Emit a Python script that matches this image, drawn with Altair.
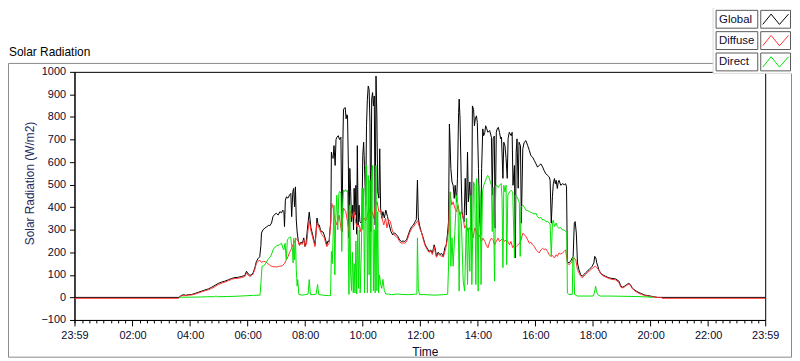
import altair as alt
import pandas as pd

series_names = ["Global", "Diffuse", "Direct"]
series_colors = ["#000000", "#ff3030", "#00e400"]

# (hour of day, W/m2)
global_pts = [
    (-0.0167, 0), (3.62, 0), (3.66, 6), (3.72, 10), (3.8, 12), (3.83, 9), (3.95, 12), (4.06, 13),
    (4.18, 18), (4.29, 23), (4.41, 28), (4.52, 33), (4.64, 38), (4.75, 45), (4.87, 54), (4.98, 62),
    (5.1, 68), (5.21, 72), (5.33, 78), (5.44, 84), (5.56, 88), (5.67, 89), (5.79, 93), (5.9, 97),
    (5.96, 116), (6.02, 104), (6.08, 98), (6.13, 100), (6.19, 109), (6.25, 131), (6.3, 158), (6.36, 172),
    (6.42, 180), (6.46, 230), (6.48, 285), (6.53, 299), (6.6, 308), (6.66, 312), (6.72, 320), (6.77, 318),
    (6.83, 330), (6.88, 358), (6.94, 368), (7.0, 373), (7.06, 365), (7.12, 380), (7.18, 375), (7.22, 387),
    (7.26, 380), (7.28, 314), (7.31, 431), (7.35, 446), (7.4, 440), (7.46, 455), (7.5, 461), (7.53, 358),
    (7.57, 470), (7.6, 483), (7.63, 402), (7.66, 490), (7.69, 343), (7.72, 290), (7.76, 250), (7.8, 233),
    (7.85, 245), (7.9, 240), (7.95, 264), (7.99, 226), (8.03, 242), (8.09, 321), (8.14, 378), (8.2, 308),
    (8.26, 277), (8.3, 255), (8.34, 233), (8.38, 300), (8.41, 352), (8.45, 321), (8.49, 321), (8.53, 300),
    (8.57, 292), (8.62, 290), (8.66, 277), (8.7, 260), (8.75, 233), (8.79, 250), (8.83, 248), (8.86, 300),
    (8.89, 336), (8.91, 644), (8.94, 620), (8.97, 616), (9.0, 673), (9.04, 585), (9.07, 700), (9.1, 710),
    (9.15, 717), (9.19, 700), (9.21, 704), (9.24, 710), (9.26, 468), (9.28, 292), (9.31, 700), (9.33, 834),
    (9.37, 840), (9.39, 842), (9.42, 792), (9.45, 810), (9.47, 805), (9.5, 585), (9.52, 264), (9.55, 572),
    (9.58, 468), (9.61, 336), (9.65, 409), (9.68, 300), (9.7, 484), (9.73, 365), (9.76, 497), (9.79, 280),
    (9.81, 673), (9.84, 321), (9.87, 409), (9.9, 336), (9.94, 330), (9.97, 340), (10.0, 629), (10.03, 688),
    (10.06, 585), (10.1, 409), (10.13, 761), (10.16, 879), (10.19, 937), (10.22, 922), (10.25, 776),
    (10.28, 292), (10.31, 879), (10.34, 908), (10.37, 849), (10.4, 893), (10.43, 321), (10.46, 981),
    (10.49, 805), (10.52, 468), (10.56, 440), (10.59, 659), (10.62, 396), (10.66, 351), (10.7, 380),
    (10.75, 352), (10.8, 387), (10.86, 358), (10.92, 321), (10.98, 292), (11.04, 277), (11.1, 286),
    (11.16, 280), (11.22, 270), (11.28, 255), (11.34, 248), (11.4, 250), (11.46, 248), (11.52, 255),
    (11.58, 277), (11.64, 299), (11.7, 314), (11.76, 321), (11.82, 336), (11.86, 345), (11.9, 520),
    (11.93, 352), (11.97, 321), (12.03, 292), (12.1, 264), (12.17, 233), (12.24, 218), (12.3, 204),
    (12.36, 210), (12.42, 197), (12.48, 233), (12.52, 215), (12.56, 182), (12.62, 200), (12.68, 190),
    (12.74, 195), (12.8, 182), (12.85, 220), (12.9, 233), (12.94, 277), (12.98, 336), (13.01, 769),
    (13.03, 700), (13.06, 572), (13.1, 512), (13.14, 497), (13.18, 439), (13.21, 497), (13.26, 424),
    (13.29, 528), (13.33, 820), (13.35, 879), (13.38, 791), (13.42, 528), (13.45, 380), (13.49, 351),
    (13.52, 336), (13.56, 528), (13.6, 365), (13.64, 644), (13.67, 424), (13.72, 512), (13.78, 292),
    (13.81, 849), (13.85, 834), (13.88, 761), (13.91, 791), (13.95, 805), (13.98, 776), (14.02, 571),
    (14.06, 351), (14.1, 277), (14.13, 572), (14.17, 747), (14.2, 717), (14.24, 732), (14.27, 761),
    (14.3, 750), (14.35, 732), (14.41, 740), (14.47, 710), (14.5, 453), (14.53, 704), (14.57, 715),
    (14.6, 307), (14.64, 732), (14.67, 747), (14.71, 754), (14.75, 732), (14.79, 704), (14.82, 710),
    (14.87, 528), (14.9, 688), (14.94, 673), (14.98, 616), (15.02, 528), (15.05, 704), (15.09, 732),
    (15.12, 725), (15.16, 717), (15.19, 732), (15.22, 497), (15.27, 585), (15.3, 175), (15.33, 644),
    (15.36, 703), (15.4, 484), (15.43, 688), (15.48, 673), (15.51, 329), (15.56, 659), (15.61, 688),
    (15.67, 695), (15.73, 673), (15.79, 651), (15.84, 629), (15.9, 622), (15.96, 607), (16.02, 592),
    (16.07, 578), (16.13, 585), (16.19, 592), (16.25, 578), (16.3, 563), (16.36, 548), (16.42, 541),
    (16.48, 534), (16.51, 519), (16.55, 329), (16.59, 446), (16.62, 504), (16.66, 527), (16.69, 504),
    (16.72, 519), (16.76, 483), (16.79, 510), (16.82, 519), (16.88, 497), (16.94, 504), (17.0, 500),
    (17.05, 504), (17.08, 490), (17.11, 160), (17.16, 153), (17.22, 160), (17.28, 175), (17.31, 182),
    (17.35, 329), (17.38, 336), (17.42, 285), (17.46, 153), (17.51, 123), (17.57, 101), (17.63, 94),
    (17.68, 101), (17.74, 109), (17.8, 116), (17.86, 123), (17.92, 131), (17.97, 138), (18.03, 153),
    (18.06, 182), (18.1, 175), (18.13, 153), (18.17, 138), (18.2, 123), (18.26, 109), (18.32, 101),
    (18.43, 94), (18.55, 87), (18.66, 84), (18.78, 82), (18.9, 72), (18.97, 50), (19.02, 45), (19.1, 50),
    (19.17, 57), (19.24, 62), (19.3, 57), (19.36, 43), (19.42, 35), (19.5, 28), (19.6, 21), (19.7, 16),
    (19.8, 10), (19.9, 8), (20.0, 6), (20.1, 3), (20.25, 0), (23.983, 0),
]

diffuse_pts = [
    (-0.0167, -4), (3.6, -4), (3.66, 4), (3.72, 8), (3.83, 8), (3.95, 10), (4.06, 11), (4.18, 15),
    (4.29, 20), (4.41, 25), (4.52, 30), (4.64, 34), (4.75, 40), (4.87, 48), (4.98, 57), (5.1, 63),
    (5.21, 68), (5.33, 74), (5.44, 80), (5.56, 84), (5.67, 85), (5.79, 88), (5.9, 92), (5.96, 108),
    (6.02, 98), (6.08, 93), (6.13, 96), (6.19, 104), (6.25, 125), (6.3, 150), (6.36, 160), (6.42, 165),
    (6.48, 155), (6.55, 160), (6.62, 158), (6.7, 150), (6.8, 140), (6.9, 136), (7.0, 135), (7.1, 138),
    (7.2, 140), (7.28, 150), (7.34, 165), (7.4, 180), (7.46, 200), (7.52, 215), (7.58, 235), (7.64, 250),
    (7.7, 260), (7.74, 255), (7.8, 230), (7.85, 240), (7.9, 235), (7.95, 255), (8.0, 225), (8.05, 240),
    (8.1, 300), (8.14, 340), (8.2, 295), (8.26, 265), (8.34, 225), (8.41, 330), (8.49, 305), (8.57, 280),
    (8.66, 265), (8.75, 225), (8.83, 240), (8.88, 320), (8.92, 418), (8.97, 396), (9.02, 352), (9.1, 321),
    (9.18, 365), (9.26, 292), (9.33, 396), (9.41, 380), (9.47, 336), (9.52, 292), (9.58, 380), (9.64, 352),
    (9.7, 380), (9.75, 336), (9.81, 308), (9.87, 321), (9.92, 292), (9.98, 336), (10.04, 352), (10.1, 340),
    (10.16, 358), (10.21, 396), (10.27, 360), (10.33, 380), (10.38, 350), (10.44, 409), (10.5, 424),
    (10.56, 380), (10.62, 385), (10.67, 351), (10.73, 321), (10.79, 351), (10.84, 308), (10.9, 345),
    (10.96, 336), (11.02, 300), (11.1, 275), (11.16, 270), (11.22, 262), (11.28, 247), (11.34, 240),
    (11.4, 242), (11.46, 240), (11.52, 247), (11.58, 268), (11.64, 290), (11.7, 305), (11.76, 312),
    (11.82, 325), (11.86, 330), (11.91, 340), (11.95, 320), (12.0, 300), (12.05, 285), (12.1, 258),
    (12.17, 228), (12.24, 212), (12.3, 200), (12.36, 205), (12.42, 190), (12.48, 225), (12.56, 178),
    (12.62, 192), (12.7, 185), (12.8, 180), (12.88, 215), (12.94, 260), (12.98, 300), (13.03, 468),
    (13.09, 409), (13.14, 424), (13.2, 395), (13.26, 380), (13.31, 409), (13.37, 365), (13.43, 380),
    (13.49, 351), (13.54, 307), (13.6, 321), (13.66, 292), (13.72, 310), (13.78, 292), (13.83, 263),
    (13.89, 307), (13.95, 292), (14.01, 263), (14.06, 277), (14.12, 248), (14.18, 263), (14.24, 248),
    (14.29, 233), (14.35, 220), (14.41, 248), (14.47, 263), (14.53, 255), (14.58, 233), (14.64, 248),
    (14.7, 263), (14.75, 248), (14.81, 255), (14.87, 263), (14.92, 248), (14.98, 255), (15.04, 248),
    (15.1, 233), (15.15, 248), (15.21, 220), (15.27, 233), (15.33, 226), (15.39, 233), (15.45, 240),
    (15.5, 255), (15.56, 285), (15.61, 278), (15.67, 270), (15.73, 255), (15.79, 240), (15.84, 245),
    (15.9, 233), (15.96, 226), (16.02, 211), (16.07, 205), (16.13, 197), (16.19, 211), (16.25, 218),
    (16.3, 212), (16.36, 215), (16.42, 204), (16.48, 189), (16.53, 182), (16.59, 186), (16.66, 175),
    (16.72, 189), (16.76, 182), (16.82, 197), (16.88, 192), (16.94, 197), (17.0, 204), (17.05, 211),
    (17.11, 153), (17.16, 145), (17.22, 150), (17.28, 160), (17.33, 175), (17.4, 168), (17.46, 123),
    (17.51, 109), (17.57, 94), (17.63, 87), (17.68, 94), (17.74, 101), (17.8, 109), (17.86, 116),
    (17.92, 123), (17.97, 128), (18.03, 135), (18.09, 138), (18.14, 131), (18.2, 122), (18.26, 106),
    (18.35, 96), (18.43, 91), (18.55, 84), (18.66, 80), (18.78, 78), (18.9, 66), (18.97, 45), (19.02, 42),
    (19.1, 47), (19.17, 54), (19.24, 58), (19.3, 54), (19.36, 40), (19.42, 32), (19.5, 25), (19.6, 18),
    (19.7, 13), (19.8, 8), (19.9, 6), (20.0, 4), (20.1, 2), (20.25, 0), (20.38, 0), (20.4, -4),
    (23.983, -4),
]

direct_pts = [
    (3.62, 0), (3.7, 1), (4.0, 1), (4.4, 2), (4.6, 3), (4.85, 3), (4.9, 6), (4.95, 3), (5.3, 4), (5.6, 5),
    (5.9, 7), (6.2, 9), (6.43, 10), (6.46, 60), (6.5, 138), (6.55, 140), (6.6, 145), (6.7, 167), (6.8, 182),
    (6.9, 215), (7.0, 229), (7.1, 233), (7.18, 240), (7.22, 220), (7.26, 211), (7.3, 240), (7.34, 167),
    (7.38, 255), (7.42, 262), (7.46, 268), (7.5, 266), (7.53, 226), (7.56, 211), (7.58, 153), (7.6, 262),
    (7.63, 167), (7.66, 264), (7.69, 123), (7.72, 50), (7.74, 79), (7.78, 13), (7.9, 10), (8.0, 12),
    (8.1, 15), (8.14, 79), (8.18, 13), (8.3, 12), (8.38, 15), (8.43, 57), (8.47, 13), (8.6, 10), (8.8, 8),
    (8.88, 8), (8.91, 204), (8.94, 150), (8.97, 264), (9.0, 409), (9.03, 100), (9.06, 350), (9.1, 453),
    (9.13, 300), (9.17, 462), (9.2, 470), (9.24, 462), (9.27, 204), (9.3, 400), (9.33, 475), (9.37, 470),
    (9.4, 478), (9.44, 470), (9.47, 475), (9.5, 200), (9.52, 13), (9.55, 409), (9.58, 100), (9.61, 30),
    (9.64, 200), (9.67, 20), (9.7, 150), (9.73, 20), (9.76, 250), (9.79, 15), (9.82, 308), (9.85, 40),
    (9.88, 300), (9.91, 20), (9.95, 200), (9.98, 484), (10.0, 300), (10.03, 484), (10.06, 20), (10.1, 500),
    (10.13, 585), (10.16, 20), (10.19, 541), (10.22, 100), (10.25, 520), (10.28, 20), (10.31, 541),
    (10.34, 585), (10.37, 30), (10.4, 300), (10.43, 20), (10.46, 585), (10.49, 30), (10.52, 380),
    (10.55, 20), (10.58, 100), (10.62, 60), (10.66, 40), (10.7, 80), (10.75, 30), (10.8, 15), (10.9, 15),
    (11.0, 12), (11.2, 15), (11.4, 13), (11.6, 12), (11.8, 14), (11.88, 15), (11.9, 264), (11.93, 40),
    (11.97, 13), (12.2, 12), (12.5, 10), (12.8, 12), (12.95, 14), (12.98, 138), (13.03, 468), (13.06, 138),
    (13.1, 264), (13.14, 138), (13.2, 292), (13.26, 453), (13.31, 409), (13.35, 28), (13.38, 380),
    (13.43, 321), (13.49, 72), (13.54, 28), (13.6, 352), (13.64, 57), (13.67, 307), (13.72, 116),
    (13.76, 453), (13.79, 57), (13.85, 512), (13.89, 497), (13.93, 57), (13.96, 527), (14.01, 28),
    (14.04, 497), (14.08, 453), (14.11, 57), (14.16, 468), (14.2, 497), (14.25, 512), (14.29, 527),
    (14.34, 541), (14.38, 535), (14.43, 512), (14.47, 497), (14.5, 292), (14.53, 488), (14.58, 72),
    (14.62, 497), (14.66, 497), (14.71, 488), (14.75, 497), (14.81, 505), (14.84, 439), (14.87, 132),
    (14.9, 497), (14.94, 468), (14.98, 497), (15.0, 145), (15.04, 453), (15.1, 468), (15.15, 475),
    (15.21, 468), (15.27, 175), (15.3, 453), (15.36, 446), (15.41, 431), (15.44, 418), (15.47, 182),
    (15.5, 402), (15.56, 409), (15.61, 400), (15.67, 387), (15.73, 385), (15.79, 380), (15.84, 378),
    (15.9, 373), (15.96, 370), (16.02, 373), (16.07, 358), (16.13, 351), (16.19, 355), (16.25, 343),
    (16.3, 345), (16.36, 336), (16.42, 338), (16.48, 329), (16.51, 325), (16.55, 182), (16.59, 329),
    (16.62, 343), (16.66, 314), (16.72, 330), (16.76, 314), (16.81, 307), (16.88, 310), (16.94, 299),
    (17.0, 299), (17.05, 292), (17.09, 290), (17.11, 20), (17.16, 13), (17.28, 13), (17.3, 175),
    (17.33, 182), (17.36, 13), (17.46, 6), (18.0, 6), (18.05, 20), (18.09, 50), (18.12, 28), (18.16, 13),
    (18.25, 6), (18.6, 6), (19.0, 5), (19.5, 4), (19.9, 2), (20.08, 0),
]

y_tick_values = [-100, 0, 100, 200, 300, 400, 500, 600, 700, 800, 900, 1000]
x_first = -1 / 60
x_last = 1439 / 60
x_tick_values = [x_first] + [q / 4 for q in range(0, 96)] + [x_last]

rows = []
for name, pts in zip(series_names, [global_pts, diffuse_pts, direct_pts]):
    for t, v in pts:
        rows.append({"series": name, "hour": t, "value": v})
df = pd.DataFrame(rows)

FONT = "Liberation Sans"
TEXT = "#0a0a30"

major = "(datum.value > 0 && datum.value % 2 == 0) || datum.value < 0 || datum.value > 23.9"
label_expr = (
    "(" + major + ") ? ((datum.value < 0 || datum.value > 23.9) ? '23:59' : "
    "((datum.value < 10 ? '0' : '') + datum.value + ':00')) : ''"
)

x_enc = alt.X(
    "hour:Q",
    scale=alt.Scale(domain=[x_first, x_last], nice=False, zero=False),
    axis=alt.Axis(
        values=x_tick_values,
        labelExpr=label_expr,
        labelOverlap=False,
        labelFlush=False,
        tickSize={"condition": {"test": major, "value": 6}, "value": 3},
        labelPadding=4,
        title="Time",
        titleX=353,
        titleY=27,
    ),
)
y_enc = alt.Y(
    "value:Q",
    scale=alt.Scale(domain=[-100, 1000], nice=False, zero=False),
    axis=alt.Axis(
        values=y_tick_values,
        format="d",
        tickSize=5,
        labelPadding=4,
        title="Solar Radiation (W/m2)",
        titleX=-38,
        titleY=112,
        titleColor="#1f2a66",
    ),
)
color_enc = alt.Color(
    "series:N", scale=alt.Scale(domain=series_names, range=series_colors), legend=None
)

one = alt.Data(values=[{"k": 0}])


def rect(x1, x2, y1, y2, fill, stroke):
    return alt.Chart(one).mark_rect(fill=fill, stroke=stroke, strokeWidth=1).encode(
        x=alt.value(x1), x2=alt.value(x2), y=alt.value(y1), y2=alt.value(y2)
    )


layers = []
# outer panel frame
layers.append(
    alt.Chart(one).mark_rect(filled=False, stroke="#8a8a8a", strokeWidth=1).encode(
        x=alt.value(-66.5), x2=alt.value(722.5), y=alt.value(-8.5), y2=alt.value(287.5)
    )
)
# panel title
layers.append(
    alt.Chart(one)
    .mark_text(text="Solar Radiation", align="left", baseline="alphabetic", font=FONT, fontSize=12, color="#000000")
    .encode(x=alt.value(-66), y=alt.value(-16))
)
for name in series_names:
    layers.append(
        alt.Chart(df)
        .transform_filter(alt.datum.series == name)
        .mark_line(strokeWidth=1, interpolate="linear")
        .encode(x=x_enc, y=y_enc, color=color_enc)
    )

# legend panel
layers.append(rect(643.5, 760, -80, 1.5, "#ffffff", "#dadada"))
zig = "M-1,0.4L-0.35,-0.4L0.3,0.4L1,-0.4"
for i, (name, col) in enumerate(zip(series_names, series_colors)):
    top = -62 + i * 21.5
    layers.append(rect(646.5, 688.5, top, top + 18, "#ffffff", "#5a5a5a"))
    layers.append(rect(691.5, 721.5, top, top + 18, "#ffffff", "#5a5a5a"))
    layers.append(
        alt.Chart(one)
        .mark_text(text=name, align="left", baseline="middle", font=FONT, fontSize=11.5, color=TEXT)
        .encode(x=alt.value(649.5), y=alt.value(top + 9.5))
    )
    layers.append(
        alt.Chart(one)
        .mark_point(shape=zig, filled=False, size=676, color=col, strokeWidth=1, opacity=1)
        .encode(x=alt.value(706.5), y=alt.value(top + 9))
    )

chart = (
    alt.layer(*layers)
    .properties(
        width=696,
        height=250,
        padding={"left": 67, "top": 63, "right": 27, "bottom": 39},
        autosize=alt.AutoSizeParams(type="none"),
    )
    .configure_view(stroke="#000000", strokeWidth=1)
    .configure_axis(
        grid=False,
        domainColor="#000000",
        tickColor="#000000",
        labelFont=FONT,
        labelFontSize=11,
        labelColor=TEXT,
        titleFont=FONT,
        titleFontSize=12,
        titleFontWeight="normal",
        titleColor=TEXT,
    )
)

chart.save("out.html", embed_options={"renderer": "svg", "actions": False})
